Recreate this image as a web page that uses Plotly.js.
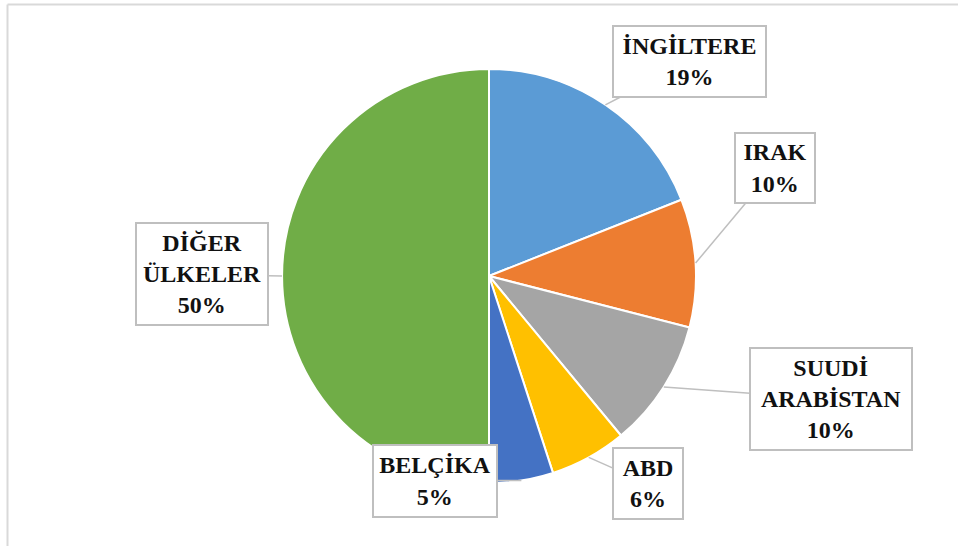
<!DOCTYPE html>
<html>
<head>
<meta charset="utf-8">
<script src="https://cdn.plot.ly/plotly-3.0.1.min.js"></script>
<style>html,body{margin:0;padding:0;background:#fff;}#chart{width:958px;height:546px;}</style>
</head>
<body>
<div id="chart"></div>
<script>
// Data
const categories = ["İNGİLTERE", "IRAK", "SUUDİ ARABİSTAN", "ABD", "BELÇİKA", "DİĞER ÜLKELER"];
const labelLines = ["İNGİLTERE", "IRAK", "SUUDİ<br>ARABİSTAN", "ABD", "BELÇİKA", "DİĞER<br>ÜLKELER"];
const values = [19, 10, 10, 6, 5, 50];
const colors = ["#5B9BD5", "#ED7D31", "#A5A5A5", "#FFC000", "#4472C4", "#70AD47"];

// Layout constants (pixels)
const W = 958, H = 546;
const cx = 489, cy = 276, R = 207;
// label box centres and sizes (px)
const boxes = [
  {x: 689.5, y: 61.5, w: 153, h: 71},
  {x: 775, y: 168, w: 80, h: 70},
  {x: 831, y: 399, w: 162, h: 102},
  {x: 648, y: 483.5, w: 70, h: 71},
  {x: 435, y: 481, w: 124, h: 72},
  {x: 202, y: 274, w: 132, h: 102}
];

const total = values.reduce((a, b) => a + b, 0);
const annotations = [];
let cum = 0;
values.forEach((v, i) => {
  const mid = (cum + v / 2) / total * 2 * Math.PI;
  cum += v;
  const px = cx + R * Math.sin(mid);
  const py = cy - R * Math.cos(mid);
  const pct = Math.round(v / total * 100) + "%";
  const b = boxes[i];
  const pad = 3;
  annotations.push({
    xref: "paper", yref: "paper",
    x: px / W, y: 1 - py / H,
    ax: b.x - px, ay: b.y - py,
    axref: "pixel", ayref: "pixel",
    showarrow: true, arrowhead: 0, arrowwidth: 1.5, arrowcolor: "#BFBFBF",
    text: "<b>" + labelLines[i] + "<br>" + pct + "</b>",
    font: {family: "Liberation Serif", size: 24, color: "#111"},
    align: "center",
    width: b.w - 2 * pad - 2, height: b.h - 2 * pad - 2,
    borderpad: pad, bordercolor: "#BFBFBF", borderwidth: 2, bgcolor: "#FFFFFF"
  });
});

const trace = {
  type: "pie",
  labels: categories,
  values: values,
  sort: false,
  direction: "clockwise",
  rotation: 0,
  marker: {colors: colors, line: {color: "#FFFFFF", width: 2}},
  textinfo: "none",
  hoverinfo: "label+percent",
  showlegend: false,
  domain: {x: [(cx - R) / W, (cx + R) / W], y: [1 - (cy + R) / H, 1 - (cy - R) / H]}
};

const layout = {
  width: W, height: H,
  margin: {l: 0, r: 0, t: 0, b: 0},
  paper_bgcolor: "#FFFFFF",
  showlegend: false,
  annotations: annotations,
  shapes: [
    {type: "line", xref: "paper", yref: "paper", x0: 7.5 / W, x1: 1, y0: 1 - 4.5 / H, y1: 1 - 4.5 / H, line: {color: "#D9D9D9", width: 2}},
    {type: "line", xref: "paper", yref: "paper", x0: 7.5 / W, x1: 7.5 / W, y0: 0, y1: 1 - 4.5 / H, line: {color: "#D9D9D9", width: 2}}
  ]
};

Plotly.newPlot("chart", [trace], layout, {displayModeBar: false, staticPlot: true});
</script>
</body>
</html>
